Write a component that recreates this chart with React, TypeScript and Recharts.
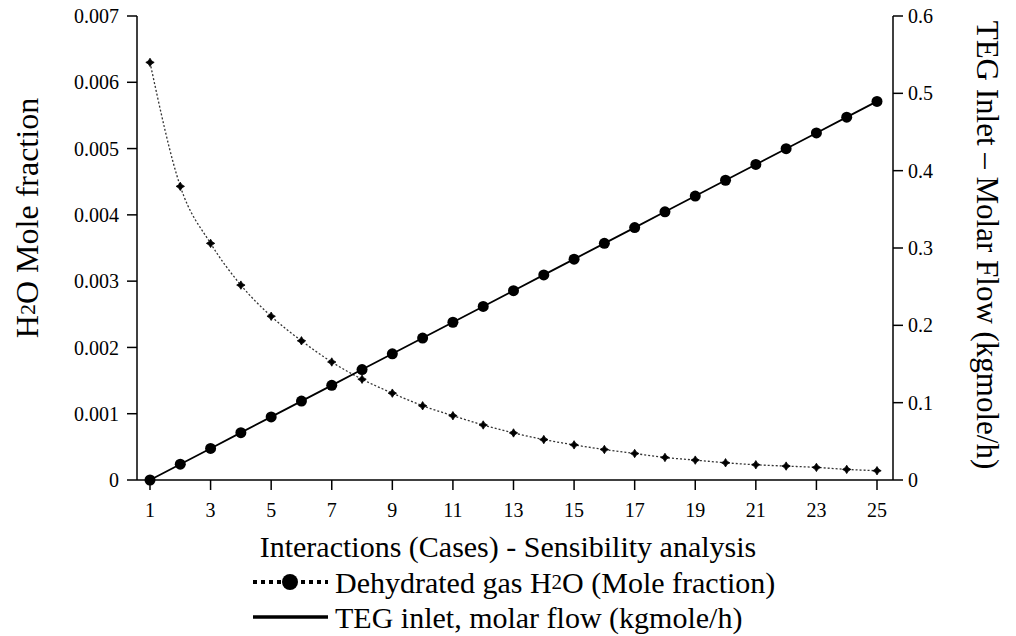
import { LineChart, Line, XAxis, YAxis, Legend, Label } from 'recharts'

const cases = [1, 2, 3, 4, 5, 6, 7, 8, 9, 10, 11, 12, 13, 14, 15, 16, 17, 18, 19, 20, 21, 22, 23, 24, 25]

// dehydrated gas H2O mole fraction (left axis)
const h2oFraction = [
  0.0063, 0.00443, 0.00357, 0.00294, 0.00247, 0.0021, 0.00178, 0.00152, 0.00131, 0.00112,
  0.00097, 0.00083, 0.00071, 0.00061, 0.00053, 0.00046, 0.0004, 0.00034, 0.0003, 0.00026,
  0.00023, 0.00021, 0.00019, 0.00016, 0.00014,
]

// TEG inlet molar flow, kgmole/h (right axis)
const tegFlow = [
  0, 0.0204, 0.0408, 0.0612, 0.0816, 0.102, 0.1224, 0.1428, 0.1632, 0.1836,
  0.204, 0.2244, 0.2448, 0.2652, 0.2856, 0.306, 0.3264, 0.3468, 0.3672, 0.3876,
  0.408, 0.4284, 0.4488, 0.4692, 0.4896,
]

const leftTicks = [0, 0.001, 0.002, 0.003, 0.004, 0.005, 0.006, 0.007]
const rightTicks = [0, 0.1, 0.2, 0.3, 0.4, 0.5, 0.6]

const data = cases.map((c, i) => ({ case: c, h2o: h2oFraction[i], teg: tegFlow[i] }))

const FONT = "'Liberation Serif', 'DejaVu Serif', serif"
const tickStyle = { fontSize: 20, fill: '#000', fontFamily: FONT }

function StarDot(props: any) {
  const { cx, cy } = props
  if (cx == null || cy == null) return null
  const a = 4.2, b = 1.6
  const d = `M${cx},${cy - a} L${cx + b},${cy - b} L${cx + a},${cy} L${cx + b},${cy + b} L${cx},${cy + a} L${cx - b},${cy + b} L${cx - a},${cy} L${cx - b},${cy - b} Z`
  return <path d={d} fill="#000" stroke="#000" strokeWidth={0.8} />
}

function LeftLabel() {
  return (
    <text
      x={27} y={218}
      transform="rotate(-90, 27, 218)"
      textAnchor="middle" dominantBaseline="central"
      style={{ fontFamily: FONT, fontSize: 32, fill: '#000' }}
    >
      H<tspan style={{ fontSize: 22 }}>2</tspan>O Mole fraction
    </text>
  )
}

function LegendBox() {
  const txt = { fontFamily: FONT, fontSize: 30, fill: '#000' }
  return (
    <svg width={600} height={72} style={{ display: 'block' }}>
      <line x1={3} y1={18} x2={78} y2={18} stroke="#000" strokeWidth={4} strokeDasharray="4 4" />
      <circle cx={40} cy={18} r={8} fill="#000" />
      <text x={85} y={18} dominantBaseline="central" style={txt}>
        Dehydrated gas H<tspan style={{ fontSize: 21 }}>2</tspan>O (Mole fraction)
      </text>
      <line x1={3} y1={53} x2={78} y2={53} stroke="#000" strokeWidth={3.5} />
      <text x={85} y={53} dominantBaseline="central" style={txt}>
        TEG inlet, molar flow (kgmole/h)
      </text>
    </svg>
  )
}

export default function App() {
  return (
    <div style={{ position: 'absolute', left: 0, top: 0, width: 1016, height: 636, background: '#fff', fontFamily: FONT }}>
      <LineChart width={1016} height={636} data={data} margin={{ top: 16, right: 0, bottom: 76, left: 0 }} style={{ fontFamily: FONT }}>
        <XAxis
          dataKey="case"
          interval={1}
          padding={{ left: 13, right: 16 }}
          height={80}
          tick={tickStyle}
          tickSize={10}
          tickMargin={13}
          axisLine={{ stroke: '#000', strokeWidth: 1.5 }}
          tickLine={{ stroke: '#000', strokeWidth: 1.5 }}
        >
          <Label
            value="Interactions (Cases) - Sensibility analysis"
            position="insideBottom"
            offset={3}
            dx={-7}
            style={{ fontSize: 30, fill: '#000', fontFamily: FONT }}
          />
        </XAxis>
        <YAxis
          yAxisId="left"
          width={137}
          domain={[0, 0.007]}
          ticks={leftTicks}
          tickFormatter={(v: number) => (v === 0 ? '0' : v.toFixed(3))}
          tick={tickStyle}
          tickSize={10}
          tickMargin={8}
          axisLine={{ stroke: '#000', strokeWidth: 1.5 }}
          tickLine={{ stroke: '#000', strokeWidth: 1.5 }}
          label={{ content: () => <LeftLabel /> }}
        />
        <YAxis
          yAxisId="right"
          orientation="right"
          width={123}
          domain={[0, 0.6]}
          ticks={rightTicks}
          tickFormatter={(v: number) => (v === 0 ? '0' : v.toFixed(1))}
          tick={tickStyle}
          tickSize={10}
          tickMargin={5}
          axisLine={{ stroke: '#000', strokeWidth: 1.5 }}
          tickLine={{ stroke: '#000', strokeWidth: 1.5 }}
        >
          <Label
            value="TEG Inlet – Molar Flow (kgmole/h)"
            angle={90}
            position="center"
            dx={33}
            dy={-3}
            style={{ fontSize: 31, fill: '#000', fontFamily: FONT, textAnchor: 'middle' }}
          />
        </YAxis>
        <Legend
          layout="horizontal"
          verticalAlign="middle"
          align="center"
          wrapperStyle={{ top: 564, left: 250, width: 600, height: 72 }}
          content={() => <LegendBox />}
        />
        <Line
          yAxisId="left"
          type="monotone"
          dataKey="h2o"
          stroke="#333"
          strokeWidth={1.3}
          strokeDasharray="2 2"
          dot={<StarDot />}
          activeDot={false}
          isAnimationActive={false}
        />
        <Line
          yAxisId="right"
          type="linear"
          dataKey="teg"
          stroke="#000"
          strokeWidth={1.8}
          dot={{ r: 5.5, fill: '#000', stroke: '#000', strokeWidth: 0 }}
          activeDot={false}
          isAnimationActive={false}
        />
      </LineChart>
    </div>
  )
}
